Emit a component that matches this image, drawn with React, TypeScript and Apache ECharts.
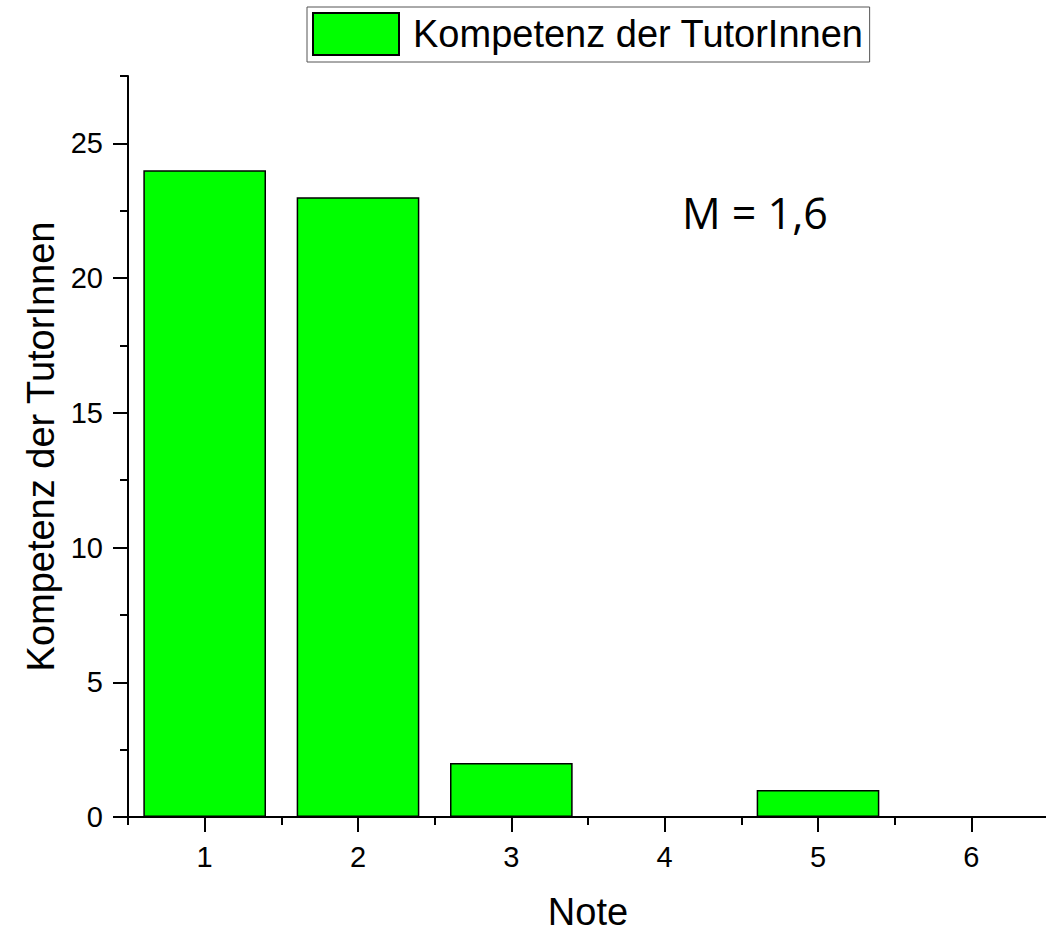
import React, { useEffect, useRef } from "react";
import * as echarts from "echarts";

const categories = ["1", "2", "3", "4", "5", "6"];
const counts = [24, 23, 2, 0, 1, 0];
const yMajorTicks = [0, 5, 10, 15, 20, 25];
const yMinorTicks = [2.5, 7.5, 12.5, 17.5, 22.5, 27.5];
const seriesName = "Kompetenz der TutorInnen";
const xTitle = "Note";
const annotation = "M = 1,6";

const FONT = "'Liberation Sans', Arial, sans-serif";

export default function App() {
  const ref = useRef<HTMLDivElement>(null);
  useEffect(() => {
    if (!ref.current) return;
    const chart = echarts.init(ref.current, undefined, { renderer: "svg" });
    chart.setOption({
      animation: false,
      backgroundColor: "#ffffff",
      textStyle: { fontFamily: FONT, color: "#000" },
      grid: {
        left: 128,
        right: -2,
        top: 76,
        bottom: 116,
        containLabel: false,
        outerBoundsMode: "none",
      },
      legend: {
        show: true,
        left: 307,
        top: 7,
        orient: "horizontal",
        padding: [5, 6, 6, 5],
        borderColor: "#555",
        borderWidth: 1,
        itemWidth: 86,
        itemHeight: 42,
        icon: "rect",
        textStyle: {
          fontFamily: FONT,
          fontSize: 38,
          color: "#000",
          padding: [0, 0, 0, 9],
          lineHeight: 42,
        },
        data: [seriesName],
      },
      xAxis: [
        {
          type: "category",
          data: categories,
          position: "bottom",
          boundaryGap: true,
          name: xTitle,
          nameLocation: "middle",
          nameGap: 76,
          nameTextStyle: { fontFamily: FONT, fontSize: 38, color: "#000" },
          axisLine: { show: true, onZero: false, lineStyle: { color: "#000", width: 2 } },
          axisTick: { show: true, inside: false, length: 8, lineStyle: { color: "#000", width: 2 } },
          axisLabel: { show: true, margin: 25, fontFamily: FONT, fontSize: 29, color: "#000" },
          splitLine: { show: false },
        },
        {
          type: "category",
          data: categories,
          position: "bottom",
          boundaryGap: true,
          axisLine: { show: false },
          axisTick: { show: true, alignWithLabel: true, length: 15, lineStyle: { color: "#000", width: 2 } },
          axisLabel: { show: false },
          splitLine: { show: false },
        },
      ],
      yAxis: [
        {
          type: "value",
          min: 0,
          max: 27.5,
          position: "left",
          name: seriesName,
          nameLocation: "middle",
          nameGap: 52,
          nameTextStyle: { fontFamily: FONT, fontSize: 38, color: "#000" },
          axisLine: { show: true, lineStyle: { color: "#000", width: 2 } },
          axisTick: { show: true, length: 15, customValues: yMajorTicks, lineStyle: { color: "#000", width: 2 } },
          axisLabel: { show: true, margin: 25, customValues: yMajorTicks, fontFamily: FONT, fontSize: 29, color: "#000" },
          splitLine: { show: false },
        },
        {
          type: "value",
          min: 0,
          max: 27.5,
          position: "left",
          axisLine: { show: false },
          axisTick: { show: true, length: 8, customValues: yMinorTicks, lineStyle: { color: "#000", width: 2 } },
          axisLabel: { show: false },
          splitLine: { show: false },
        },
      ],
      series: [
        {
          name: seriesName,
          type: "bar",
          xAxisIndex: 0,
          yAxisIndex: 0,
          data: counts,
          barWidth: "80%",
          itemStyle: { color: "#00ff00", borderColor: "#000", borderWidth: 1.5 },
        },
      ],
      graphic: [
        {
          type: "text",
          left: 682,
          top: 191,
          style: {
            text: annotation,
            font: "43px 'Open Sans', Calibri, sans-serif",
            fill: "#000",
          },
        },
      ],
    });
    return () => chart.dispose();
  }, []);
  return (
    <div
      ref={ref}
      style={{ position: "absolute", left: 0, top: 0, width: 1046, height: 933 }}
    />
  );
}
